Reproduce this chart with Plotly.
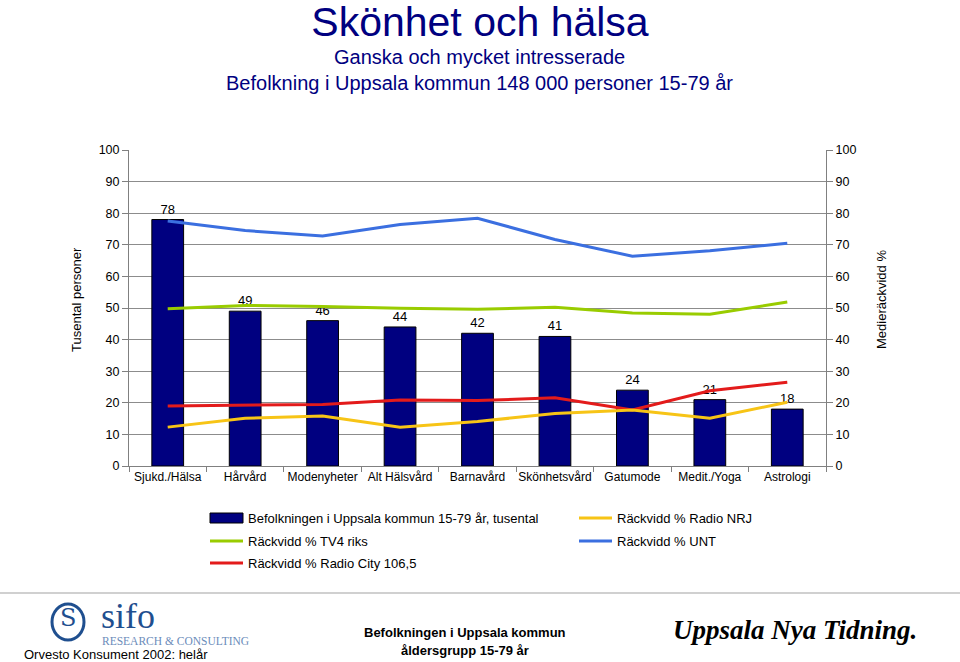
import plotly.graph_objects as go

categories = ["Sjukd./Hälsa", "Hårvård", "Modenyheter", "Alt Hälsvård", "Barnavård",
              "Skönhetsvård", "Gatumode", "Medit./Yoga", "Astrologi"]
befolkning = [78, 49, 46, 44, 42, 41, 24, 21, 18]
tv4 = [49.8, 50.8, 50.5, 49.9, 49.6, 50.2, 48.4, 48.0, 51.9]
radio_city = [19.0, 19.3, 19.5, 20.9, 20.7, 21.6, 17.7, 23.8, 26.5]
radio_nrj = [12.3, 15.1, 15.8, 12.3, 14.1, 16.6, 17.7, 15.1, 20.2]
unt = [77.5, 74.5, 72.8, 76.4, 78.4, 71.7, 66.4, 68.1, 70.5]
tick_vals = [0, 10, 20, 30, 40, 50, 60, 70, 80, 90, 100]

NAVY = "#000080"
C_TV4 = "#99cc00"
C_CITY = "#e31b1b"
C_NRJ = "#f7c416"
C_UNT = "#3b6fe0"
FONT = "Liberation Sans, Arial, sans-serif"

fig = go.Figure()
fig.add_trace(go.Bar(
    x=categories, y=befolkning, name="Befolkningen i Uppsala kommun 15-79 år, tusental",
    marker=dict(color=NAVY, line=dict(color="black", width=1)), width=0.41,
    text=[str(v) for v in befolkning], textposition="outside",
    textfont=dict(size=13, color="black", family=FONT), cliponaxis=False,
))
for name, vals, col in [("Räckvidd % TV4 riks", tv4, C_TV4),
                        ("Räckvidd % Radio City 106,5", radio_city, C_CITY),
                        ("Räckvidd % Radio NRJ", radio_nrj, C_NRJ),
                        ("Räckvidd % UNT", unt, C_UNT)]:
    fig.add_trace(go.Scatter(x=categories, y=vals, name=name, mode="lines",
                             line=dict(color=col, width=3), yaxis="y2"))

axis_common = dict(range=[0, 100], tickvals=tick_vals, ticks="outside", ticklen=6,
                   tickcolor="#808080", showline=True, linecolor="#808080", linewidth=1,
                   tickfont=dict(size=12.5, color="black", family=FONT), zeroline=False)

fig.update_layout(
    width=960, height=662,
    margin=dict(l=129, r=134, t=150, b=196),
    paper_bgcolor="white", plot_bgcolor="white",
    showlegend=False, bargap=0.59,
    font=dict(family=FONT, color="black"),
    title=dict(text="Skönhet och hälsa", x=0.5, xref="container", xanchor="center",
               y=1 - 22 / 662, yref="container", yanchor="middle",
               font=dict(size=41, color=NAVY, family=FONT)),
    xaxis=dict(showline=True, linecolor="#808080", ticks="outside", tickson="boundaries",
               ticklen=5, tickcolor="#808080", tickangle=0,
               tickfont=dict(size=12, family=FONT), showgrid=False),
    yaxis=dict(**axis_common, showgrid=True, gridcolor="#8c8c8c", gridwidth=1),
    yaxis2=dict(**axis_common, overlaying="y", side="right", showgrid=False),
)

ann = []
def A(text, x, y, size, color="black", xanchor="center", yanchor="middle", angle=0, family=FONT):
    ann.append(dict(text=text, x=x, y=y, xref="paper", yref="paper", showarrow=False,
                    font=dict(size=size, color=color, family=family), xanchor=xanchor,
                    yanchor=yanchor, textangle=angle))

def px(x):
    return (x - 129) / (960 - 129 - 134)

def py(y):
    return (466 - y) / (466 - 150)

A("Ganska och mycket intresserade", px(480), py(57), 20, NAVY)
A("Befolkning i Uppsala kommun 148 000 personer 15-79 år", px(480), py(83), 20, NAVY)
A("Tusental personer", px(76), py(300), 13, angle=-90)
A("Medieräckvidd %", px(881), py(300), 13, angle=-90)

# manual legend
leg = [("bar", "Befolkningen i Uppsala kommun 15-79 år, tusental", NAVY, 210, 518),
       ("line", "Räckvidd % TV4 riks", C_TV4, 210, 541),
       ("line", "Räckvidd % Radio City 106,5", C_CITY, 210, 563),
       ("line", "Räckvidd % Radio NRJ", C_NRJ, 579, 518),
       ("line", "Räckvidd % UNT", C_UNT, 579, 541)]
shapes = []
for kind, label, col, x0, y0 in leg:
    if kind == "bar":
        shapes.append(dict(type="rect", xref="paper", yref="paper", x0=px(x0), x1=px(x0 + 33),
                           y0=py(y0 + 5), y1=py(y0 - 5), fillcolor=col,
                           line=dict(color="black", width=1)))
    else:
        shapes.append(dict(type="line", xref="paper", yref="paper", x0=px(x0), x1=px(x0 + 33),
                           y0=py(y0), y1=py(y0), line=dict(color=col, width=3)))
    A(label, px(x0 + 36), py(y0), 13, xanchor="left")

# footer
shapes.append(dict(type="line", xref="paper", yref="paper", x0=px(0), x1=px(960),
                   y0=py(593), y1=py(593), line=dict(color="#d0d0d0", width=2)))
shapes.append(dict(type="circle", xref="paper", yref="paper", x0=px(52), x1=px(84),
                   y0=py(640), y1=py(604), line=dict(color="#1f4f8f", width=3)))
A("S", px(68), py(618), 24, "#1f4f8f", family="DejaVu Serif, serif")
A("sifo", px(99), py(616), 36, "#1f4f8f", xanchor="left", family="Liberation Serif, serif")
A("RESEARCH &amp; CONSULTING", px(100), py(641), 11.5, "#6b8cba", xanchor="left",
  family="Liberation Serif, serif")
A("Orvesto Konsument 2002: helår", px(22), py(654), 13, xanchor="left")
A("<b>Befolkningen i Uppsala kommun</b>", px(465), py(632), 13)
A("<b>åldersgrupp 15-79 år</b>", px(465), py(650), 13)
A("<b><i>Uppsala Nya Tidning.</i></b>", px(795), py(630), 27, "black",
  family="Liberation Serif, serif")

fig.update_layout(annotations=ann, shapes=shapes)
fig.write_html("out.html", post_script="document.body.style.margin='0';",
               config={"displayModeBar": False})
